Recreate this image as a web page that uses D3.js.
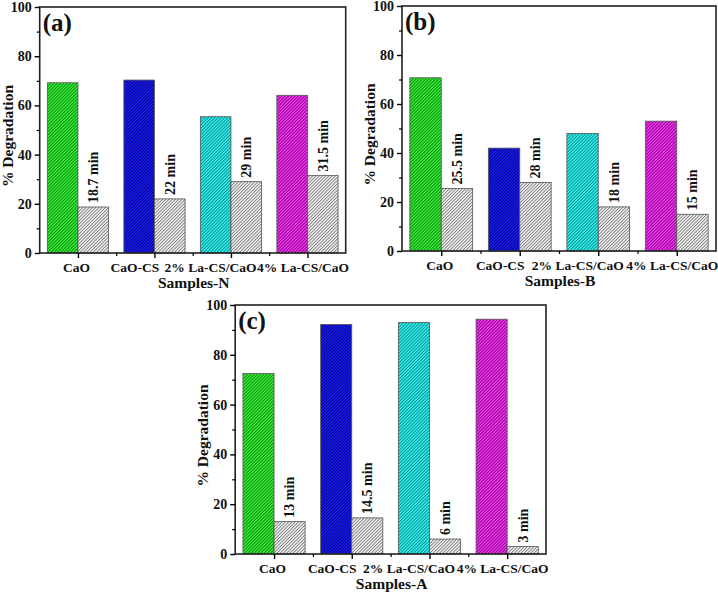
<!DOCTYPE html>
<html>
<head>
<meta charset="utf-8">
<script src="https://cdn.jsdelivr.net/npm/d3@7"></script>
<style>
  html, body { margin: 0; padding: 0; background: #fff; }
  svg text { font-family: "Liberation Serif", "Times New Roman", serif; font-weight: bold; fill: #111; }
</style>
</head>
<body>
<div id="chart"></div>
<script>
// sample names (same in every panel)
var categories = ["CaO", "CaO-CS", "2% La-CS/CaO", "4% La-CS/CaO"];

// panel (a) Samples-N
var degN = [69.2, 70.3, 55.4, 64.1];
var timeN = [18.7, 22, 29, 31.5];
// panel (b) Samples-B
var degB = [70.7, 42, 48, 53];
var timeB = [25.5, 28, 18, 15];
// panel (c) Samples-A
var degA = [72.5, 92.2, 93, 94.3];
var timeA = [13, 14.5, 6, 3];

var yTicks = [0, 20, 40, 60, 80, 100];

var width = 718, height = 596;

var barColors = [
  {base: '#3cf03c', line: '#0a8a0a'},
  {base: '#1e1eff', line: '#00007a'},
  {base: '#3cf5f5', line: '#008c8c'},
  {base: '#f53cf5', line: '#8a008a'}
];
var grayHatch = {base: '#ffffff', line: '#7a7a7a'};

// labels in the original sit left of their ticks so they don't collide
var labelShift = [-2, -20, -21, -5];

var svg = d3.select('#chart')
  .append('svg')
  .attr('width', width)
  .attr('height', height);

// hatch patterns
var defs = svg.append('defs');
function addHatch(id, c) {
  var p = defs.append('pattern')
    .attr('id', id)
    .attr('patternUnits', 'userSpaceOnUse')
    .attr('width', 2.3)
    .attr('height', 2.3)
    .attr('patternTransform', 'rotate(45)');
  p.append('rect').attr('width', 2.3).attr('height', 2.3).attr('fill', c.base);
  p.append('line')
    .attr('x1', 0.5).attr('y1', 0).attr('x2', 0.5).attr('y2', 2.3)
    .attr('stroke', c.line).attr('stroke-width', 1);
}
barColors.forEach(function(c, i) { addHatch('hatch' + i, c); });
addHatch('hatchGray', grayHatch);

var panels = [
  {tag: '(a)', title: 'Samples-N', deg: degN, time: timeN, x0: 39.7, x1: 345.7, y0: 253, y1: 7},
  {tag: '(b)', title: 'Samples-B', deg: degB, time: timeB, x0: 402, x1: 716, y0: 251, y1: 6},
  {tag: '(c)', title: 'Samples-A', deg: degA, time: timeA, x0: 235.2, x1: 546, y0: 554, y1: 305}
];

panels.forEach(drawPanel);

function drawPanel(p) {
  var g = svg.append('g');

  // categories sit at 1..4 on a 0.5..4.5 axis
  var xLin = d3.scaleLinear().domain([0.5, 4.5]).range([p.x0, p.x1]);

  var x = d3.scaleBand()
    .domain(categories)
    .range([p.x0, p.x1])
    .paddingInner(0.2)
    .paddingOuter(0.1);

  var xSub = d3.scaleBand()
    .domain(['deg', 'time'])
    .range([0, x.bandwidth()]);

  var y = d3.scaleLinear().domain([0, 100]).range([p.y0, p.y1]);

  var rows = categories.map(function(c, i) {
    return {cat: c, i: i, deg: p.deg[i], time: p.time[i]};
  });

  // degradation bars
  g.selectAll('rect.deg')
    .data(rows)
    .enter().append('rect')
      .attr('class', 'deg')
      .attr('x', function(d) { return x(d.cat) + xSub('deg'); })
      .attr('width', xSub.bandwidth())
      .attr('y', function(d) { return y(d.deg); })
      .attr('height', function(d) { return y(0) - y(d.deg); })
      .attr('fill', function(d) { return 'url(#hatch' + d.i + ')'; })
      .attr('stroke', '#555')
      .attr('stroke-width', 0.8);

  // time bars
  g.selectAll('rect.time')
    .data(rows)
    .enter().append('rect')
      .attr('class', 'time')
      .attr('x', function(d) { return x(d.cat) + xSub('time'); })
      .attr('width', xSub.bandwidth())
      .attr('y', function(d) { return y(d.time); })
      .attr('height', function(d) { return y(0) - y(d.time); })
      .attr('fill', 'url(#hatchGray)')
      .attr('stroke', '#555')
      .attr('stroke-width', 0.8);

  // time labels
  g.selectAll('text.lbl')
    .data(rows)
    .enter().append('text')
      .attr('class', 'lbl')
      .attr('transform', function(d) {
        var cx = x(d.cat) + xSub('time') + xSub.bandwidth() / 2;
        return 'translate(' + cx + ',' + (y(d.time) - 4) + ') rotate(-90)';
      })
      .attr('dy', '0.35em')
      .style('font-size', '14px')
      .text(function(d) { return d.time + ' min'; });

  // frame
  g.append('rect')
    .attr('x', p.x0).attr('y', p.y1)
    .attr('width', p.x1 - p.x0).attr('height', p.y0 - p.y1)
    .attr('fill', 'none')
    .attr('stroke', '#222')
    .attr('stroke-width', 1.6);

  // y axis
  var yAxis = g.append('g')
    .attr('transform', 'translate(' + p.x0 + ',0)')
    .call(d3.axisLeft(y).tickValues(yTicks).tickSize(5).tickPadding(3));
  yAxis.select('.domain').remove();
  yAxis.selectAll('text').style('font-size', '14px');
  yAxis.selectAll('line').attr('stroke-width', 1.4);

  var yMinor = g.append('g')
    .attr('transform', 'translate(' + p.x0 + ',0)')
    .call(d3.axisLeft(y).tickValues([10, 30, 50, 70, 90]).tickSize(3).tickFormat(''));
  yMinor.select('.domain').remove();
  yMinor.selectAll('line').attr('stroke-width', 1.2);

  // x axis
  var xAxis = g.append('g')
    .attr('transform', 'translate(0,' + p.y0 + ')')
    .call(d3.axisBottom(xLin).tickValues([1, 2, 3, 4]).tickSize(5).tickPadding(4)
      .tickFormat(function(v) { return categories[v - 1]; }));
  xAxis.select('.domain').remove();
  xAxis.selectAll('text')
    .style('font-size', '13.5px')
    .attr('dx', function(v) { return labelShift[v - 1]; });
  xAxis.selectAll('line').attr('stroke-width', 1.4);

  var xMinor = g.append('g')
    .attr('transform', 'translate(0,' + p.y0 + ')')
    .call(d3.axisBottom(xLin).tickValues([1.5, 2.5, 3.5]).tickSize(3).tickFormat(''));
  xMinor.select('.domain').remove();
  xMinor.selectAll('line').attr('stroke-width', 1.2);

  // axis titles
  g.append('text')
    .attr('x', (p.x0 + p.x1) / 2 + 1)
    .attr('y', p.y0 + 35)
    .attr('text-anchor', 'middle')
    .style('font-size', '15.5px')
    .text(p.title);

  g.append('text')
    .attr('transform', 'translate(' + (p.x0 - 27) + ',' + ((p.y0 + p.y1) / 2 + 6) + ') rotate(-90)')
    .attr('text-anchor', 'middle')
    .style('font-size', '15.5px')
    .text('% Degradation');

  // panel tag
  g.append('text')
    .attr('x', p.x0 + 3)
    .attr('y', p.y1 + 24)
    .style('font-size', '25px')
    .text(p.tag);
}
</script>
</body>
</html>
